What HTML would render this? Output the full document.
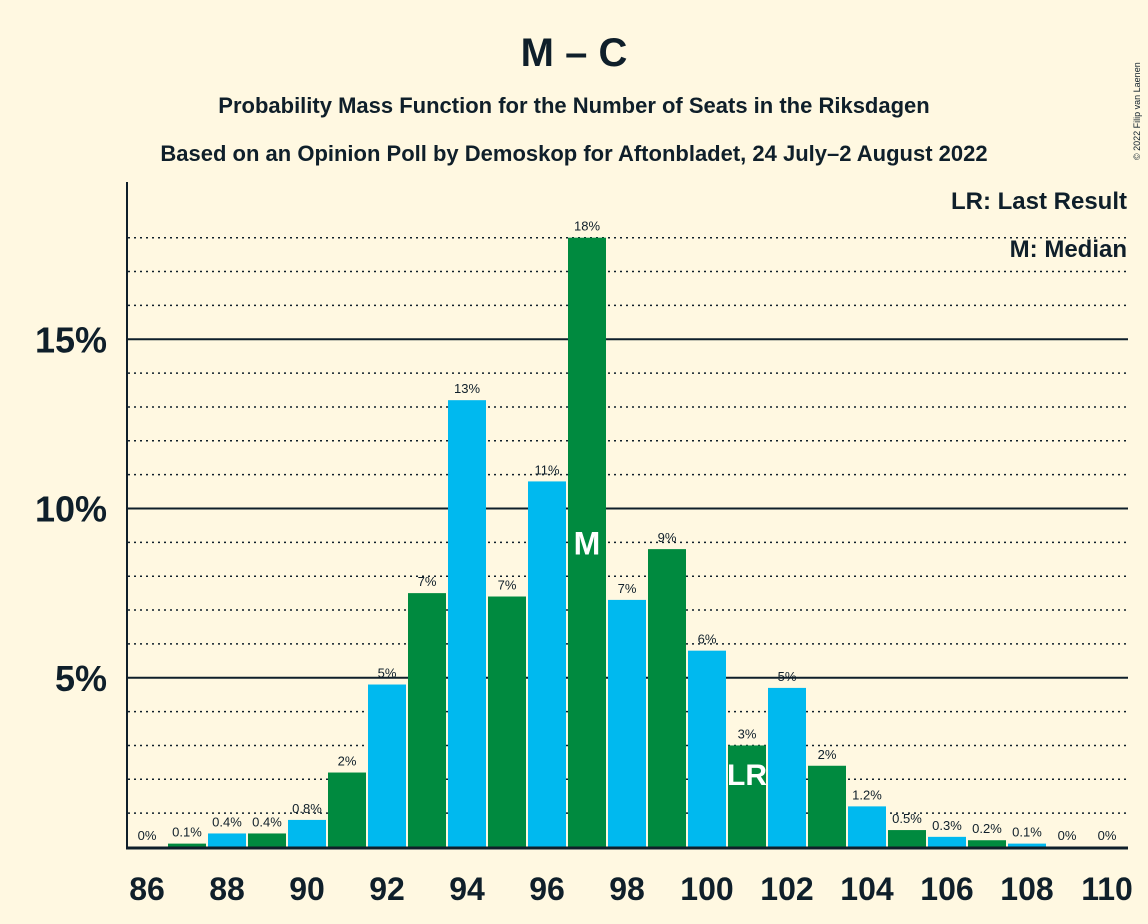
<!DOCTYPE html>
<html><head><meta charset="utf-8"><style>
body{margin:0;background:#FFF8E1;}
svg{display:block;font-family:"Liberation Sans",sans-serif;}
</style></head><body>
<svg id="c" width="1148" height="924">
<rect width="1148" height="924" fill="#FFF8E1"/>
<text x="574" y="66" text-anchor="middle" font-size="40" font-weight="bold" fill="#0F1F2A">M – C</text>
<text x="574" y="113" text-anchor="middle" font-size="22" font-weight="bold" fill="#0F1F2A">Probability Mass Function for the Number of Seats in the Riksdagen</text>
<text x="574" y="161" text-anchor="middle" font-size="22" font-weight="bold" fill="#0F1F2A">Based on an Opinion Poll by Demoskop for Aftonbladet, 24 July–2 August 2022</text>
<text x="1140" y="160" font-size="9" fill="#0F1F2A" transform="rotate(-90 1140 160)">© 2022 Filip van Laenen</text>
<text x="1127" y="209" text-anchor="end" font-size="24" font-weight="bold" fill="#0F1F2A">LR: Last Result</text>
<text x="1127" y="257" text-anchor="end" font-size="24" font-weight="bold" fill="#0F1F2A">M: Median</text>
<g id="grid"></g><g id="bars"></g><g id="labels"></g>
<line x1="127" y1="182" x2="127" y2="849" stroke="#0F1F2A" stroke-width="2"/>
<line x1="126" y1="848" x2="1128" y2="848" stroke="#0F1F2A" stroke-width="3"/>
</svg>
<script>
const seats=[86,87,88,89,90,91,92,93,94,95,96,97,98,99,100,101,102,103,104,105,106,107,108,109,110];
const probs=[0,0.1,0.4,0.4,0.8,2.2,4.8,7.5,13.2,7.4,10.8,18.0,7.3,8.8,5.8,3.0,4.7,2.4,1.2,0.5,0.3,0.2,0.1,0,0];
const valueLabels=["0%","0.1%","0.4%","0.4%","0.8%","2%","5%","7%","13%","7%","11%","18%","7%","9%","6%","3%","5%","2%","1.2%","0.5%","0.3%","0.2%","0.1%","0%","0%"];
const yTicks=[5,10,15];
const medianSeat=97, lastResultSeat=101;
const NS="http://www.w3.org/2000/svg";
const y=v=>847-v*33.85;
const x=s=>147+(s-86)*40;
function mk(t,a,p){const e=document.createElementNS(NS,t);for(const k in a)e.setAttribute(k,a[k]);p.appendChild(e);return e;}
const grid=document.getElementById('grid'),bars=document.getElementById('bars'),labels=document.getElementById('labels');
for(let v=1;v<=18;v++){
  const major=yTicks.includes(v);
  const l=mk('line',{x1:128,x2:1128,y1:y(v),y2:y(v),stroke:'#0F1F2A','stroke-width':major?2:1.5,'stroke-dasharray':major?'':'2,4'},grid);
  
  
}
yTicks.forEach(v=>{
  const t=mk('text',{x:107,y:y(v)+13,'text-anchor':'end','font-size':36,'font-weight':'bold',fill:'#0F1F2A'},labels);
  t.textContent=v+'%';
  
  
});
seats.forEach((s,i)=>{
  const v=probs[i];
  const r=mk('rect',{x:x(s)-19,y:y(v),width:38,height:847-y(v),fill:s%2===0?'#00B9EF':'#008A3F'},bars);
  
  
  const t=mk('text',{x:x(s),y:y(v)-7,'text-anchor':'middle','font-size':13,fill:'#0F1F2A'},labels);
  t.textContent=valueLabels[i];
  
  
  if(s%2===0){
    const xt=mk('text',{x:x(s),y:900,'text-anchor':'middle','font-size':32,'font-weight':'bold',fill:'#0F1F2A'},labels);
    xt.textContent=s;
    
    
  }
});
const mi=seats.indexOf(medianSeat);
const m=mk('text',{x:x(medianSeat),y:y(probs[mi]/2)+12,'text-anchor':'middle','font-size':32,'font-weight':'bold',fill:'#fff'},labels);
m.textContent='M';


const lr=mk('text',{x:x(lastResultSeat),y:785,'text-anchor':'middle','font-size':30,'font-weight':'bold',fill:'#fff'},labels);
lr.textContent='LR';


</script>
</body></html>
